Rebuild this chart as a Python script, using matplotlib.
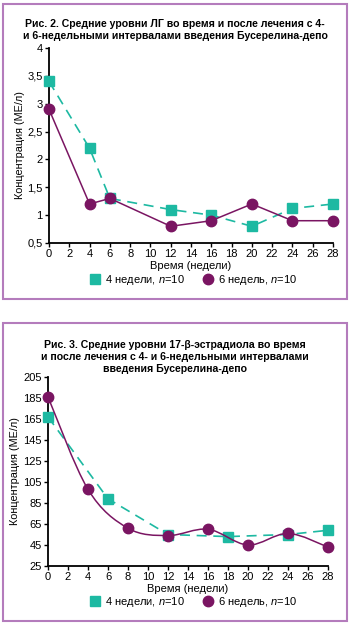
import numpy as np
import matplotlib
matplotlib.use("Agg")
from matplotlib import pyplot as plt
from matplotlib.lines import Line2D
from matplotlib.path import Path
from matplotlib.patches import PathPatch, Rectangle

plt.rcParams['font.family'] = ['Liberation Sans', 'DejaVu Sans']
plt.rcParams['mathtext.fontset'] = 'custom'
plt.rcParams['mathtext.rm'] = 'Liberation Sans'
plt.rcParams['mathtext.it'] = 'Liberation Sans:italic'

teal = '#1db9a2'
purple = '#7a1562'
frame_col = '#b47cbc'

# Рис. 2 - ЛГ
lh_x4 = [0, 4, 6, 12, 16, 20, 24, 28]
lh_y4 = [3.4, 2.2, 1.3, 1.1, 1.0, 0.8, 1.12, 1.2]
lh_x6 = [0, 4, 6, 12, 16, 20, 24, 28]
lh_y6 = [2.9, 1.2, 1.3, 0.8, 0.9, 1.2, 0.9, 0.9]
lh_yticks = [0.5, 1, 1.5, 2, 2.5, 3, 3.5, 4]
lh_ylabels = ['0,5', '1', '1,5', '2', '2,5', '3', '3,5', '4']

# Рис. 3 - эстрадиол
e2_x4 = [0, 6, 12, 18, 24, 28]
e2_y4 = [167, 89, 55, 53, 55, 59]
e2_x6 = [0, 4, 8, 12, 16, 20, 24, 28]
e2_y6 = [186, 98, 61, 54, 60, 45, 56, 43]
e2_yticks = [25, 45, 65, 85, 105, 125, 145, 165, 185, 205]

xticks = list(range(0, 29, 2))

title2 = 'Рис. 2. Средние уровни ЛГ во время и после лечения с 4-\nи 6-недельными интервалами введения Бусерелина-депо'
title3 = 'Рис. 3. Средние уровни 17-β-эстрадиола во время\nи после лечения с 4- и 6-недельными интервалами\nвведения Бусерелина-депо'
lab4 = '4 недели, $n$=10'
lab6 = '6 недель, $n$=10'


def smooth_path(xs, ys):
    # excel-style smoothed line (catmull-rom as bezier)
    pts = list(zip(xs, ys))
    verts = [pts[0]]
    codes = [Path.MOVETO]
    n = len(pts)
    for i in range(n - 1):
        p0 = pts[i - 1] if i > 0 else pts[i]
        p1 = pts[i]
        p2 = pts[i + 1]
        p3 = pts[i + 2] if i + 2 < n else pts[i + 1]
        c1 = (p1[0] + (p2[0] - p0[0]) / 6, p1[1] + (p2[1] - p0[1]) / 6)
        c2 = (p2[0] - (p3[0] - p1[0]) / 6, p2[1] - (p3[1] - p1[1]) / 6)
        verts += [c1, c2, p2]
        codes += [Path.CURVE4] * 3
    return Path(verts, codes)


def style_axes(ax, yticks, ylabels):
    ax.set_xlim(0, 28)
    ax.set_ylim(yticks[0], yticks[-1])
    ax.set_xticks(xticks)
    ax.set_yticks(yticks)
    ax.set_yticklabels(ylabels)
    for s in ['top', 'right']:
        ax.spines[s].set_visible(False)
    ax.spines['left'].set_linewidth(1.3)
    ax.spines['bottom'].set_linewidth(1.3)
    ax.tick_params(labelsize=8, length=3, width=1, pad=1.5)
    ax.set_xlabel('Время (недели)', fontsize=8, labelpad=1)
    ax.set_ylabel('Концентрация (МЕ/л)', fontsize=7.8, labelpad=2)


fig = plt.figure(figsize=(3.5, 6.25), dpi=100)

# panel frames
fig.add_artist(Rectangle((3 / 350, 1 - 299 / 625), 344 / 350, 295 / 625,
                         transform=fig.transFigure, fill=False, ec=frame_col, lw=1.5))
fig.add_artist(Rectangle((3 / 350, 1 - 621 / 625), 344 / 350, 298 / 625,
                         transform=fig.transFigure, fill=False, ec=frame_col, lw=1.5))

# Рис. 2
ax1 = fig.add_axes([49 / 350, 1 - 243 / 625, 284 / 350, 195 / 625])
ax1.plot(lh_x4, lh_y4, color=teal, lw=1.2, ls=(0, (6, 4)), marker='s', ms=7,
         mec=teal, clip_on=False, zorder=3)
ax1.plot(lh_x6, lh_y6, color=purple, lw=1.1, marker='o', ms=7.5,
         mec=purple, clip_on=False, zorder=4)
style_axes(ax1, lh_yticks, lh_ylabels)
fig.text(0.5, 1 - 30 / 625, title2, ha='center', va='center', fontsize=7.6,
         fontweight='bold', linespacing=1.2)

# Рис. 3
ax2 = fig.add_axes([48 / 350, 1 - 566 / 625, 280 / 350, 189 / 625])
ax2.plot(e2_x4, e2_y4, color=teal, lw=1.2, ls=(0, (6, 4)), marker='s', ms=7,
         mec=teal, clip_on=False, zorder=3)
ax2.add_patch(PathPatch(smooth_path(e2_x6, e2_y6), fc='none', ec=purple, lw=1.1,
                        zorder=4, clip_on=False))
ax2.plot(e2_x6, e2_y6, ls='none', marker='o', ms=7.5, color=purple,
         clip_on=False, zorder=4)
style_axes(ax2, e2_yticks, [str(v) for v in e2_yticks])
fig.text(0.5, 1 - 357 / 625, title3, ha='center', va='center', fontsize=7.6,
         fontweight='bold', linespacing=1.25)

handles = [Line2D([], [], ls='none', marker='s', ms=7, color=teal),
           Line2D([], [], ls='none', marker='o', ms=7.5, color=purple)]
for yy in [280, 602]:
    fig.legend(handles, [lab4, lab6], loc='center', ncol=2, frameon=False,
               bbox_to_anchor=(0.55, 1 - yy / 625), fontsize=8,
               handletextpad=0.3, columnspacing=1.5, handlelength=1.2,
               borderpad=0, borderaxespad=0)

fig.savefig('out.png', dpi=100)
